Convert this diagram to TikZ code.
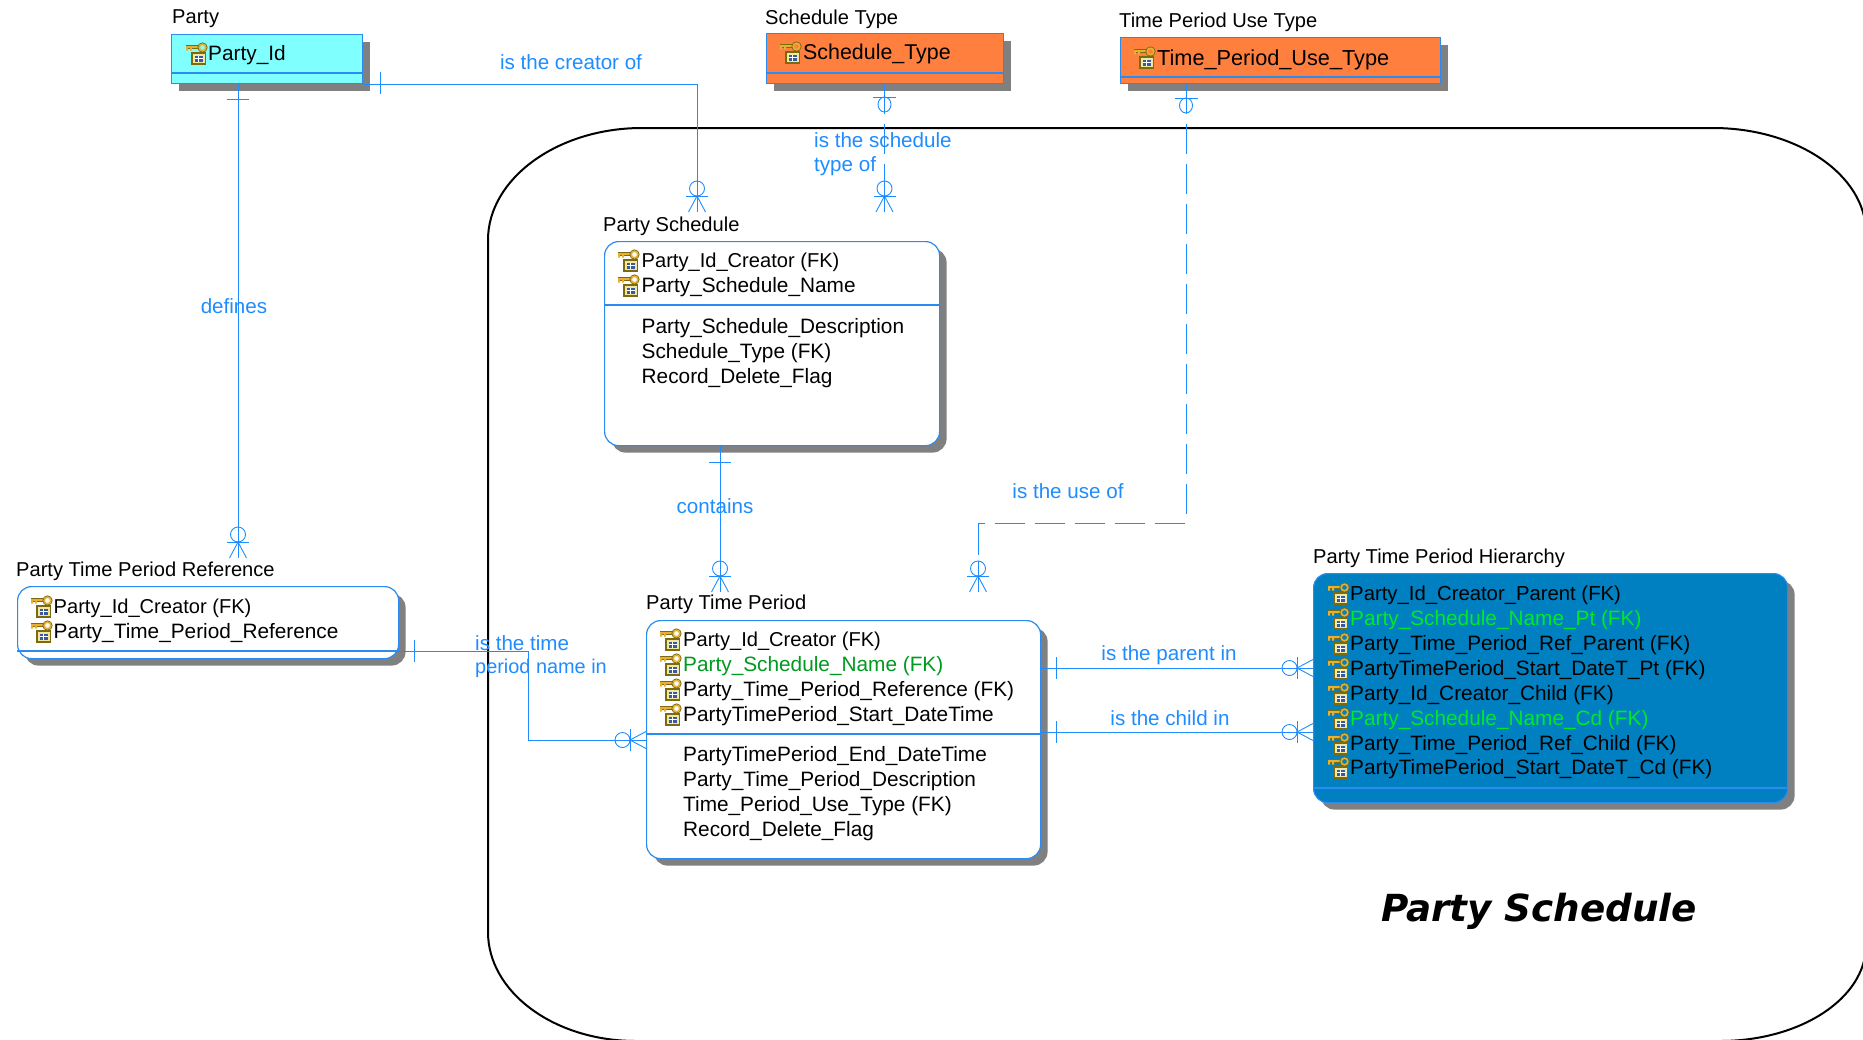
\documentclass[tikz,border=0pt]{standalone}
\usepackage{fontspec}
\setmainfont{Liberation Sans}
\newfontfamily\titlefont{DejaVu Sans}
\usetikzlibrary{shadows,calc}
\definecolor{relblue}{HTML}{1E8CFF}
\definecolor{edge}{HTML}{2A8CF0}
\definecolor{shadowgray}{HTML}{808080}
\definecolor{cyanfill}{HTML}{80FFFF}
\definecolor{orangefill}{HTML}{FF7F3F}
\definecolor{bluefill}{HTML}{0080C0}
\definecolor{darkgreen}{HTML}{009A20}
\definecolor{brightgreen}{HTML}{00E828}
\definecolor{keygold}{HTML}{E8B030}
\definecolor{boxolive}{HTML}{7A6A10}
\definecolor{boxcream}{HTML}{F0E8A0}
\definecolor{gridblue}{HTML}{3A5AA0}
\tikzset{
  x=1pt,y=-1pt,
  entity/.style={draw=edge,line width=1.2pt,anchor=north west,inner sep=0pt,
    general shadow={fill=shadowgray,draw=none,shadow xshift=7pt,shadow yshift=-7pt}},
  sharpbox/.style={entity},
  roundbox/.style={entity,rounded corners=14pt},
  sepline/.style={draw=edge,line width=1.1pt},
  rel/.style={draw=relblue,line width=1pt},
  reldash/.style={rel,dash pattern=on 30pt off 10pt},
  title/.style={anchor=west,inner sep=0pt,yshift=-2pt,font=\fontsize{20.1}{24}\selectfont,text=black},
  field/.style={anchor=west,inner sep=0pt,yshift=-2.4pt,font=\fontsize{20.8}{24}\selectfont,text=black},
  rellabel/.style={inner sep=0pt,font=\fontsize{20.6}{24}\selectfont,text=relblue},
  crow/.pic={
    \draw[rel,line width=0.9pt] (-31,0) -- (0,0);
    \draw[rel,line width=0.9pt] (0,-8.5) -- (-16,0) -- (0,8.5);
    \draw[rel,line width=0.9pt] (-16,-11) -- (-16,11);
    \draw[rel,line width=0.9pt] (-23.5,0) circle [radius=7.5];
  },
  zeroone/.pic={
    \draw[rel,line width=0.9pt] (0,-11.5) -- (0,11.5);
    \draw[rel,line width=0.9pt] (7.5,0) ellipse [x radius=7.5,y radius=6.5];
  },
  onetick/.pic={
    \draw[rel,line width=0.9pt] (0,-11) -- (0,11);
  },
  keyicon/.pic={
    \fill[boxolive] (-5,-1) rectangle (10,11.5);
    \fill[boxcream] (-3.5,0.5) rectangle (8.5,10);
    \fill[gridblue] (-1,3) rectangle (7,8.5);
    \draw[white,line width=0.7pt] (-1,5.7) -- (7,5.7) (2,3) -- (2,8.5);
    \fill[boxolive] (-10,-7.6) rectangle (3.5,-3.6);
    \fill[keygold] (-10,-7) rectangle (3.5,-4.6);
    \fill[keygold] (-10,-7) rectangle (-8,-2.5) (-6,-7) rectangle (-4,-2.5);
    \draw[boxolive,line width=1.1pt] (6.5,-5.5) circle [radius=4.5];
    \draw[keygold,line width=1.6pt] (6.5,-5.5) circle [radius=3.3];
  },
}
\newcommand{\sepat}[2]{%
  \path (0,#2) coordinate (tmpsep);
  \draw[sepline] (#1.west |- tmpsep) -- (#1.east |- tmpsep);
}
\begin{document}
\begin{tikzpicture}
\useasboundingbox (0,0) rectangle (1863,1039);
\begin{scope}
\clip (0,0) rectangle (1863,1039);
\draw[black,line width=2pt] (642,128) -- (1713,128)
  .. controls (1797,128) and (1866,175) .. (1866,233) -- (1866,945)
  .. controls (1866,998) and (1801,1041) .. (1720,1041) -- (636,1041)
  .. controls (554,1041) and (488,992) .. (488,932) -- (488,240)
  .. controls (488,179) and (557,128) .. (642,128) -- cycle;
\end{scope}

% entities
\node[sharpbox,fill=cyanfill,minimum width=191pt,minimum height=49pt] (party) at (171,34) {};
\node[sharpbox,fill=orangefill,minimum width=237pt,minimum height=50pt] (schedtype) at (766,33) {};
\node[sharpbox,fill=orangefill,minimum width=320pt,minimum height=46pt] (usetype) at (1120,37) {};
\node[roundbox,fill=white,minimum width=335pt,minimum height=204pt] (psched) at (604,241) {};
\node[roundbox,fill=white,minimum width=381pt,minimum height=72pt] (ptpr) at (17,586) {};
\node[roundbox,fill=white,minimum width=394pt,minimum height=238pt] (ptp) at (646,620) {};
\node[roundbox,fill=bluefill,minimum width=474pt,minimum height=229pt] (ptph) at (1313,573) {};

\sepat{party}{73}
\sepat{schedtype}{73}
\sepat{usetype}{77}
\sepat{psched}{305}
\sepat{ptpr}{651}
\sepat{ptp}{734}
\sepat{ptph}{788}

% entity titles
\node[title] (tParty) at (172,17) {Party};
\node[title] (tSchedType) at (765,17) {Schedule Type};
\node[title] (tUseType) at (1119,20) {Time Period Use Type};
\node[title] (tPSched) at (603,224) {Party Schedule};
\node[title] (tPtpr) at (16,569) {Party Time Period Reference};
\node[title] (tPtp) at (646,602) {Party Time Period};
\node[title] (tPtph) at (1313,556) {Party Time Period Hierarchy};

% fields
\pic at (196,53) {keyicon}; \node[field] (f01) at (208,53) {Party\_Id};
\pic at (790,52) {keyicon}; \node[field,font=\fontsize{21.4}{24}\selectfont] (f02) at (803,52) {Schedule\_Type};
\pic at (1144,57) {keyicon}; \node[field,font=\fontsize{21.7}{24}\selectfont] (f03) at (1157,57) {Time\_Period\_Use\_Type};

\pic at (628,260) {keyicon}; \node[field,font=\fontsize{20.1}{24}\selectfont] (f1) at (641.5,260) {Party\_Id\_Creator (FK)};
\pic at (628,285) {keyicon}; \node[field] (f2) at (641.5,285) {Party\_Schedule\_Name};
\node[field] (f3) at (641.5,325.5) {Party\_Schedule\_Description};
\node[field] (f4) at (641.5,350.5) {Schedule\_Type (FK)};
\node[field] (f5) at (641.5,375.5) {Record\_Delete\_Flag};

\pic at (41,606) {keyicon}; \node[field,font=\fontsize{20.1}{24}\selectfont] (f6) at (53.5,606) {Party\_Id\_Creator (FK)};
\pic at (41,631) {keyicon}; \node[field] (f7) at (53.5,631) {Party\_Time\_Period\_Reference};

\pic at (670,639) {keyicon}; \node[field,font=\fontsize{20.1}{24}\selectfont] (f8) at (683,639) {Party\_Id\_Creator (FK)};
\pic at (670,664) {keyicon}; \node[field,text=darkgreen] (f9) at (683,664) {Party\_Schedule\_Name (FK)};
\pic at (670,689) {keyicon}; \node[field] (f10) at (683,689) {Party\_Time\_Period\_Reference (FK)};
\pic at (670,714) {keyicon}; \node[field] (f11) at (683,714) {PartyTimePeriod\_Start\_DateTime};
\node[field] (f12) at (683,754) {PartyTimePeriod\_End\_DateTime};
\node[field] (f13) at (683,779) {Party\_Time\_Period\_Description};
\node[field] (f14) at (683,804) {Time\_Period\_Use\_Type (FK)};
\node[field] (f15) at (683,829) {Record\_Delete\_Flag};

\pic at (1338,593) {keyicon}; \node[field,font=\fontsize{20.3}{24}\selectfont] (h1) at (1350,593) {Party\_Id\_Creator\_Parent (FK)};
\pic at (1338,618) {keyicon}; \node[field,text=brightgreen] (h2) at (1350,618) {Party\_Schedule\_Name\_Pt (FK)};
\pic at (1338,643) {keyicon}; \node[field] (h3) at (1350,643) {Party\_Time\_Period\_Ref\_Parent (FK)};
\pic at (1338,668) {keyicon}; \node[field] (h4) at (1350,668) {PartyTimePeriod\_Start\_DateT\_Pt (FK)};
\pic at (1338,693) {keyicon}; \node[field] (h5) at (1350,693) {Party\_Id\_Creator\_Child (FK)};
\pic at (1338,718) {keyicon}; \node[field,text=brightgreen] (h6) at (1350,718) {Party\_Schedule\_Name\_Cd (FK)};
\pic at (1338,743) {keyicon}; \node[field] (h7) at (1350,743) {Party\_Time\_Period\_Ref\_Child (FK)};
\pic at (1338,767) {keyicon}; \node[field] (h8) at (1350,767) {PartyTimePeriod\_Start\_DateT\_Cd (FK)};

% connector ends
\coordinate (creatorTip) at (697,212);
\coordinate (schedTop) at (884.5,97);
\coordinate (schedTip) at (884.5,212);
\coordinate (useTop) at (1186,98);
\coordinate (useBend) at (1186,523);
\coordinate (useCorner) at (978,523);
\coordinate (useTip) at (978,592);
\coordinate (useEnd) at (978,555);
\coordinate (defTip) at (238,558);
\coordinate (containsTip) at (720,592);
\coordinate (refBend) at (528,740);
\coordinate (refY) at (414,651);
\coordinate (parentY) at (1056,668);
\coordinate (childY) at (1056,732);

% connectors
\draw[rel] (party.south east) -| (creatorTip);
\pic at (380,83) {onetick};
\pic[rotate=-90] at (creatorTip) {crow};

\draw[rel] (defTip |- party.south) -- (defTip);
\pic[rotate=90] at (238,99) {onetick};
\pic[rotate=-90] at (defTip) {crow};

\draw[reldash] (schedTip |- schedtype.south) -- (schedTip);
\pic[rotate=-90] at (schedTop) {zeroone};
\pic[rotate=-90] at (schedTip) {crow};

\draw[reldash] (useBend |- usetype.south) -- (useBend) -- (useCorner);
\draw[rel] (useCorner) -- (useEnd);
\pic[rotate=-90] at (useTop) {zeroone};
\pic[rotate=-90] at (useTip) {crow};

\draw[rel] (containsTip |- psched.south) -- (containsTip);
\pic[rotate=90] at (720,462) {onetick};
\pic[rotate=-90] at (containsTip) {crow};

\draw[rel] (ptpr.east |- refY) -| (refBend) -- (ptp.west |- refBend);
\pic at (refY) {onetick};
\pic at (ptp.west |- refBend) {crow};

\draw[rel] (ptp.east |- parentY) -- (ptph.west |- parentY);
\pic at (parentY) {onetick};
\pic at (ptph.west |- parentY) {crow};

\draw[rel] (ptp.east |- childY) -- (ptph.west |- childY);
\pic at (childY) {onetick};
\pic at (ptph.west |- childY) {crow};

% relationship labels
\node[rellabel] (l1) at (571,62) {is the creator of};
\node[rellabel,anchor=west] (l2a) at (814,140) {is the schedule};
\node[rellabel,anchor=west] (l2b) at (814,166) {type of};
\node[rellabel] (l3) at (234,306) {defines};
\node[rellabel] (l4) at (715,506) {contains};
\node[rellabel] (l5) at (1068,491) {is the use of};
\node[rellabel,anchor=west] (l6a) at (475,643) {is the time};
\node[rellabel,anchor=west,font=\fontsize{19.9}{24}\selectfont] (l6b) at (475,668) {period name in};
\node[rellabel] (l7) at (1169,655) {is the parent in};
\node[rellabel] (l8) at (1170,718) {is the child in};

\node[anchor=center,inner sep=0pt,font=\titlefont\bfseries\itshape\fontsize{37.3}{42}\selectfont] (diagramtitle) at (1539,911) {Party Schedule};
\end{tikzpicture}
\end{document}
